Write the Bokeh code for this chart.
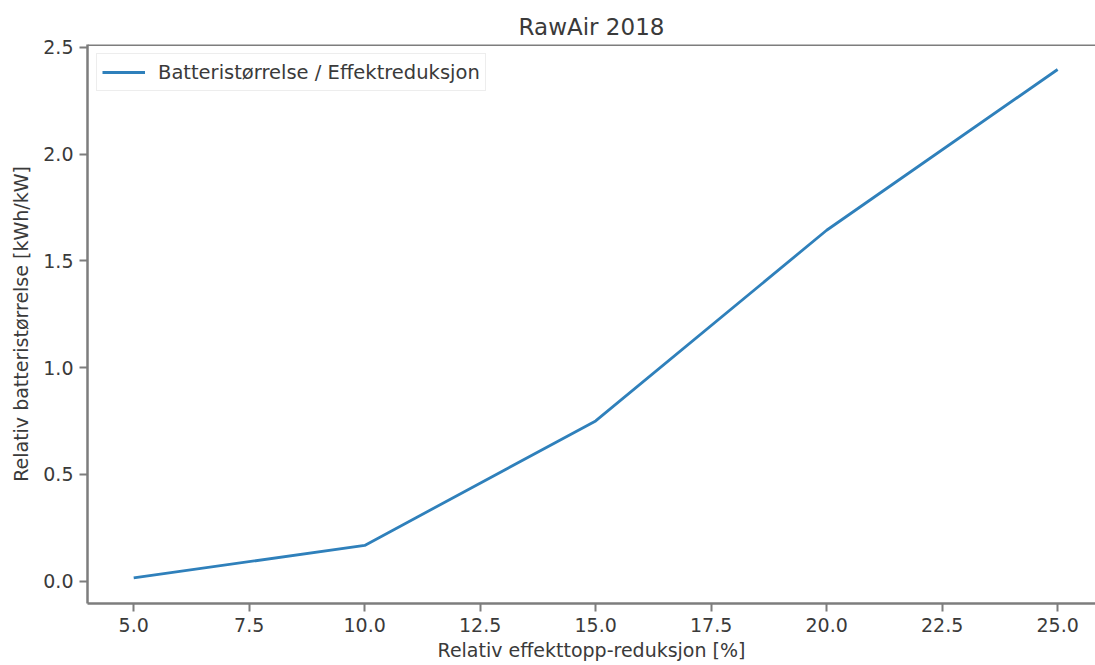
from bokeh.plotting import figure
from bokeh.models import Range1d, FixedTicker, PrintfTickFormatter, Span, Legend, LegendItem
from bokeh.embed import file_html
from bokeh.resources import INLINE

# Relative peak reduction [%] vs. relative battery size [kWh/kW]
reduction_pct = [5.0, 10.0, 15.0, 20.0, 25.0]
battery_size = [0.015, 0.167, 0.75, 1.643, 2.396]
x_ticks = [5.0, 7.5, 10.0, 12.5, 15.0, 17.5, 20.0, 22.5, 25.0]
y_ticks = [0.0, 0.5, 1.0, 1.5, 2.0, 2.5]

FONT = "DejaVu Sans"
TEXT = "#3a3a3a"
SPINE = "#7d7d7d"

y_lo, y_hi = -0.105, 2.513

p = figure(width=1095, height=665, output_backend="svg", toolbar_location=None,
           x_range=Range1d(4.0, 25.82), y_range=Range1d(y_lo, y_hi),
           title="RawAir 2018")
p.min_border_left = 87
p.min_border_right = 0
p.min_border_top = 44
p.min_border_bottom = 62
p.outline_line_color = None
p.background_fill_color = "white"
p.border_fill_color = "white"
p.grid.visible = False

p.title.text_font = FONT
p.title.text_font_size = "23px"
p.title.text_font_style = "normal"
p.title.text_color = TEXT
p.title.align = "center"

for ax in (p.xaxis[0], p.yaxis[0]):
    ax.axis_line_color = SPINE
    ax.axis_line_width = 2.5
    ax.major_tick_line_color = SPINE
    ax.major_tick_line_width = 2
    ax.major_tick_out = 8
    ax.major_tick_in = 0
    ax.minor_tick_line_color = None
    ax.major_label_text_font = FONT
    ax.major_label_text_font_size = "19px"
    ax.major_label_text_color = TEXT
    ax.major_label_standoff = 6
    ax.axis_label_text_font = FONT
    ax.axis_label_text_font_size = "19px"
    ax.axis_label_text_font_style = "normal"
    ax.axis_label_text_color = TEXT
    ax.formatter = PrintfTickFormatter(format="%.1f")

p.xaxis[0].ticker = FixedTicker(ticks=x_ticks)
p.yaxis[0].ticker = FixedTicker(ticks=y_ticks)
p.xaxis[0].axis_label = "Relativ effekttopp-reduksjon [%]"
p.yaxis[0].axis_label = "Relativ batteristørrelse [kWh/kW]"
p.xaxis[0].axis_label_standoff = 4
p.yaxis[0].axis_label_standoff = 8

# top spine
p.add_layout(Span(location=y_hi, dimension="width", line_color=SPINE, line_width=3))

line = p.line(reduction_pct, battery_size, line_color="#2f80bb", line_width=2.8)

legend = Legend(items=[LegendItem(label="Batteristørrelse / Effektreduksjon", renderers=[line])],
                location="top_left")
legend.margin = 9
legend.padding = 5
legend.spacing = 0
legend.glyph_width = 43
legend.glyph_height = 26
legend.label_height = 26
legend.label_standoff = 13
legend.label_text_font = FONT
legend.label_text_font_size = "19.5px"
legend.label_text_color = TEXT
legend.border_line_color = "#dcdcdc"
legend.border_line_width = 1.5
legend.background_fill_color = "white"
legend.background_fill_alpha = 0.9
p.add_layout(legend, "center")

open("out.html", "w").write(file_html(p, INLINE))
